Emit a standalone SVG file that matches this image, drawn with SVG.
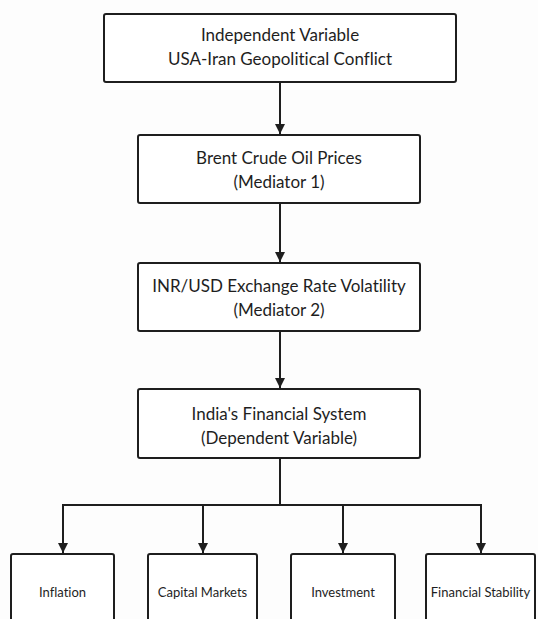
<svg xmlns="http://www.w3.org/2000/svg" width="538" height="619" viewBox="0 0 538 619">
<style>
.box{fill:#fff;stroke:#1e1e1e;stroke-width:2}
.t,.s{font-family:Lato,"Open Sans","Liberation Sans",sans-serif;fill:#1e1e1e;text-anchor:middle;font-variant-ligatures:none;font-feature-settings:"liga" 0,"dlig" 0}
.t{font-size:17px}
.s{font-size:13px}
.c{fill:none;stroke:#1e1e1e;stroke-width:2}
</style>
<defs>
<marker id="ah" viewBox="0 0 10 10" refX="10" refY="5" markerWidth="5" markerHeight="5.5" markerUnits="strokeWidth" orient="auto">
<path d="M0,0 L10,5 L0,10 Z" fill="#1e1e1e"/>
</marker>
</defs>
<rect width="538" height="619" fill="#fdfdfd"/>
<g id="connectors">
<line class="c" x1="280" y1="82" x2="280" y2="134" marker-end="url(#ah)"/>
<line class="c" x1="280" y1="203" x2="280" y2="262" marker-end="url(#ah)"/>
<line class="c" x1="280" y1="331" x2="280" y2="388" marker-end="url(#ah)"/>
<polyline class="c" points="280,458 280,505"/>
<polyline class="c" points="63,505 481,505"/>
<line class="c" x1="63" y1="504" x2="63" y2="553" marker-end="url(#ah)"/>
<line class="c" x1="203" y1="504" x2="203" y2="553" marker-end="url(#ah)"/>
<line class="c" x1="343" y1="504" x2="343" y2="553" marker-end="url(#ah)"/>
<line class="c" x1="481" y1="504" x2="481" y2="553" marker-end="url(#ah)"/>
</g>
<g id="n1"><rect class="box" x="104" y="14" width="352" height="68" rx="2"/>
<text class="t" x="280" y="41">Independent Variable</text>
<text class="t" x="280" y="65">USA-Iran Geopolitical Conflict</text></g>
<g id="n2"><rect class="box" x="138" y="135" width="282" height="68" rx="2"/>
<text class="t" x="279" y="164">Brent Crude Oil Prices</text>
<text class="t" x="279" y="188">(Mediator 1)</text></g>
<g id="n3"><rect class="box" x="138" y="263" width="282" height="68" rx="2"/>
<text class="t" x="279" y="292">INR/USD Exchange Rate Volatility</text>
<text class="t" x="279" y="316">(Mediator 2)</text></g>
<g id="n4"><rect class="box" x="138" y="389" width="282" height="69" rx="2"/>
<text class="t" x="279" y="420">India's Financial System</text>
<text class="t" x="279" y="444">(Dependent Variable)</text></g>
<g id="c1"><rect class="box" x="11" y="554" width="103" height="80" rx="2"/>
<text class="s" x="62.5" y="597">Inflation</text></g>
<g id="c2"><rect class="box" x="148" y="554" width="109" height="80" rx="2"/>
<text class="s" x="202.5" y="597">Capital Markets</text></g>
<g id="c3"><rect class="box" x="291" y="554" width="104" height="80" rx="2"/>
<text class="s" x="343" y="597">Investment</text></g>
<g id="c4"><rect class="box" x="426" y="554" width="109" height="80" rx="2"/>
<text class="s" x="480.5" y="597">Financial Stability</text></g>
</svg>
